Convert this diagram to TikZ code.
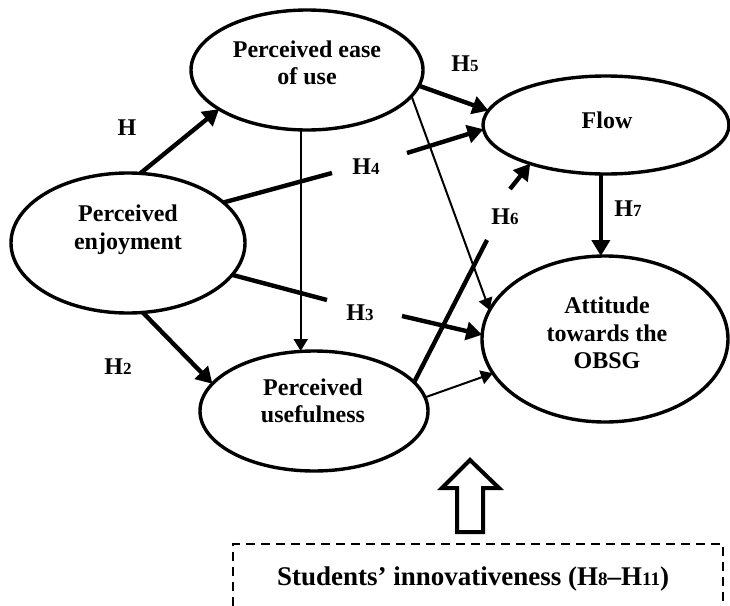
\documentclass[tikz,border=0pt]{standalone}
\usepackage{fontspec}
\setmainfont{Liberation Serif}
\usetikzlibrary{arrows.meta,calc,shapes.geometric}
\newcommand{\hsub}[1]{H{\fontsize{8.5}{10}\selectfont #1}}
\newcommand{\hsubb}[1]{H{\fontsize{9.5}{10}\selectfont #1}}
\begin{document}
\begin{tikzpicture}[x=0.5pt,y=-0.5pt,
  ell/.style={ellipse, draw, line width=1.7pt, inner sep=0pt, outer sep=0pt},
  txt/.style={font=\bfseries\fontsize{12}{13.8}\selectfont, align=center, inner sep=0pt},
  lab/.style={font=\bfseries\fontsize{12}{13.8}\selectfont, inner sep=0pt},
  biglab/.style={font=\bfseries\fontsize{13.5}{15}\selectfont, inner sep=0pt},
  thickarr/.style={line width=2.2pt, -{Triangle[length=8pt,width=9pt]}},
  thickline/.style={line width=2.2pt},
  thinarr/.style={line width=1pt, -{Triangle[length=6pt,width=7pt]}},
  hollow/.style={line width=2pt, line join=miter},
  dashbox/.style={line width=0.85pt, dash pattern=on 4.5pt off 3pt}
]
\useasboundingbox (0,0) rectangle (730,606);
% ellipses
\node[ell, minimum width=116pt, minimum height=60pt] (PEOU) at (307,70) {};
\node[ell, minimum width=123pt, minimum height=49pt] (Flow) at (606,125) {};
\node[ell, minimum width=117pt, minimum height=70pt] (PE) at (128,243) {};
\node[ell, minimum width=114pt, minimum height=60pt] (PU) at (314,411) {};
\node[ell, minimum width=123pt, minimum height=83pt] (ATT) at (605,339) {};
% texts
\node[txt] (PEOUt) at (307,63) {Perceived ease\\of use};
\node[txt] (Flowt) at (607,120) {Flow};
\node[txt] (PEt) at (128,230) {Perceived\\enjoyment};
\node[txt] (PUt) at (313,401) {Perceived\\usefulness};
\node[txt] (ATTt) at (607,333) {Attitude\\towards the\\OBSG};
% labels
\node[lab] (L1) at (127,128) {H};
\node[lab] (L2) at (118,367) {\hsub{2}};
\node[lab] (L3) at (360,313) {\hsub{3}};
\node[lab] (L4) at (366,167) {\hsub{4}};
\node[lab] (L5) at (465,64) {\hsub{5}};
\node[lab] (L6) at (505,217) {\hsub{6}};
\node[lab] (L7) at (628,209) {\hsub{7}};
% gap coordinates
\coordinate (g4a) at (332,173);
\coordinate (g4b) at (407,153);
\coordinate (g3a) at (327,300);
\coordinate (g3b) at (402,316);
\coordinate (g6a) at (487,240);
\coordinate (g6b) at (510,189);
% connectors
\draw[thickarr] (PE.80) -- (PEOU.204);
\draw[thickarr] (PE.282) -- (PU.165);
\draw[thinarr] (PEOU.264) -- (PEOU.264 |- PU.north);
\draw[thickline] (PE.23) -- (g4a);
\draw[thickarr] (g4b) -- (Flow.182);
\draw[thickarr] (PEOU.352) -- (Flow.173);
\draw[thinarr] (PEOU.346) -- (ATT.166);
\draw[thickline] (PE.343) -- (g3a);
\draw[thickarr] (g3b) -- (ATT.178);
\draw[thickline] (PU.16) -- (g6a);
\draw[thickarr] (g6b) -- (Flow.207);
\draw[thinarr] (PU.7) -- (ATT.197);
\draw[thickarr] (Flow.264) -- (Flow.264 |- ATT.north);
% hollow arrow
\draw[hollow] (457,532) -- (457,488) -- (442,488) -- (470,460) -- (499,488) -- (483,488) -- (483,532) -- cycle;
% dashed box
\draw[dashbox] (233,606) -- (233,544) -- (723,544) -- (723,606);
\node[biglab] (SI) at (473,579) {Students’ innovativeness (\hsubb{8}–\hsubb{11})};
\end{tikzpicture}
\end{document}
